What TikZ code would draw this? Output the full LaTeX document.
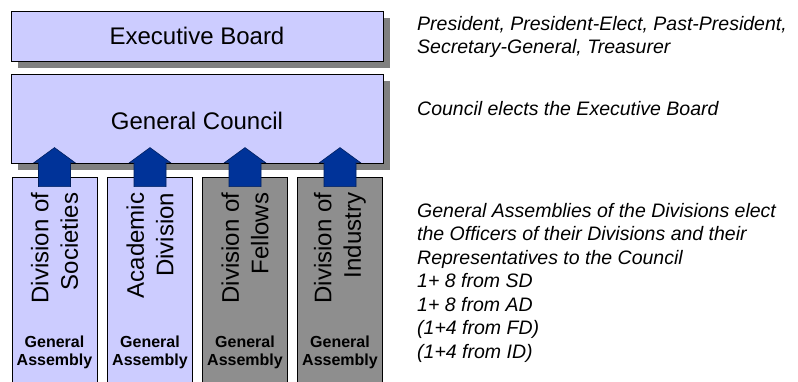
\documentclass[tikz,border=0pt]{standalone}
\usepackage{fontspec}
\setmainfont{Liberation Sans}
\usetikzlibrary{shadows,calc}
\definecolor{boxblue}{RGB}{204,204,255}
\definecolor{boxgrey}{RGB}{142,142,142}
\definecolor{shadowgrey}{RGB}{128,128,128}
\definecolor{arrowblue}{RGB}{0,51,153}
\definecolor{arrowline}{RGB}{0,32,96}
\begin{document}
\begin{tikzpicture}[x=1pt,y=-1pt,
  board/.style={draw=black, line width=1pt, fill=boxblue, minimum width=372pt, inner sep=0pt,
    font=\fontsize{24}{28}\selectfont,
    drop shadow={shadow xshift=7pt, shadow yshift=-7pt, fill=shadowgrey, opacity=1}},
  division/.style={draw=black, line width=0.8pt, minimum width=85pt, minimum height=213pt, inner sep=0pt},
  divname/.style={rotate=90, anchor=east, align=right, inner sep=0pt, font=\fontsize{24}{29.5}\selectfont},
  assembly/.style={align=center, inner sep=0pt, font=\bfseries\fontsize{16}{18.5}\selectfont},
  note/.style={anchor=north west, align=left, inner sep=0pt, font=\itshape\fontsize{19.5}{23.5}\selectfont},
  uparrow/.style={fill=arrowblue, draw=arrowline, line width=0.6pt, line join=miter}]
  \useasboundingbox (0,0) rectangle (798,381);

  % Board and council
  \node[board, minimum height=50pt] (exec) at (197,36) {Executive Board};
  \node[board, minimum height=89pt] (council) at (197,118.5) {};
  \node[font=\fontsize{24}{28}\selectfont, inner sep=0pt] (councilname) at (197,121) {General Council};

  % Divisions
  \node[division, fill=boxblue] (sd) at (54.5,283.5) {};
  \node[division, fill=boxblue] (ad) at (150,283.5) {};
  \node[division, fill=boxgrey] (fd) at (245,283.5) {};
  \node[division, fill=boxgrey] (id) at (340,283.5) {};

  % Division names and assemblies
  \node[divname] (sdname) at ($(sd.north)+(0,16)$) {Division of\\Societies};
  \node[divname] (adname) at ($(ad.north)+(0,16)$) {Academic\\Division};
  \node[divname] (fdname) at ($(fd.north)+(0,16)$) {Division of\\Fellows};
  \node[divname] (idname) at ($(id.north)+(0,16)$) {Division of\\Industry};
  \foreach \d in {sd,ad,fd,id}
    \node[assembly] (ga-\d) at ($(\d.north)+(0,176)$) {General\\Assembly};

  % Arrows up into the council
  \foreach \d in {sd,ad,fd,id}
    \draw[uparrow, shift={(\d.north)}] (-16,10) -- (-16,-14) -- (-20.5,-14) -- (0,-29)
      -- (20.5,-14) -- (16,-14) -- (16,10) -- cycle;

  % Notes on the right
  \node[note] (officers) at (417,16) {President, President-Elect, Past-President,\\Secretary-General, Treasurer};
  \node[note] (elects) at (417,101) {Council elects the Executive Board};
  \node[note] (assemblies) at (417,203) {General Assemblies of the Divisions elect\\the Officers of their Divisions and their\\Representatives to the Council\\1+ 8 from SD\\1+ 8 from AD\\(1+4 from FD)\\(1+4 from ID)};
\end{tikzpicture}
\end{document}
